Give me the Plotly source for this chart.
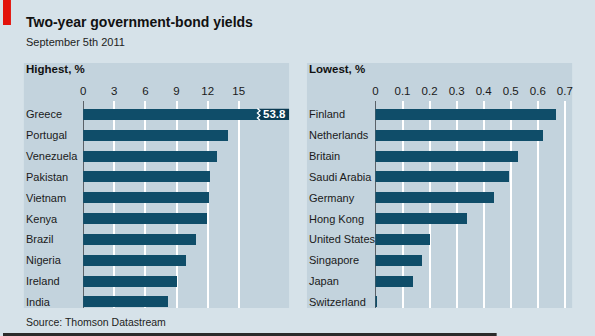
import plotly.graph_objects as go

# ---- data ----
high_countries = ["Greece", "Portugal", "Venezuela", "Pakistan", "Vietnam",
                  "Kenya", "Brazil", "Nigeria", "Ireland", "India"]
high_values = [53.8, 14.0, 12.95, 12.2, 12.1, 12.0, 10.9, 9.9, 9.1, 8.15]
high_ticks = [0, 3, 6, 9, 12, 15]

low_countries = ["Finland", "Netherlands", "Britain", "Saudi Arabia", "Germany",
                 "Hong Kong", "United States", "Singapore", "Japan", "Switzerland"]
low_values = [0.668, 0.622, 0.53, 0.494, 0.44, 0.34, 0.205, 0.175, 0.142, 0.007]
low_ticks = [0, 0.1, 0.2, 0.3, 0.4, 0.5, 0.6, 0.7]

title = "Two-year government-bond yields"
subtitle = "September 5th 2011"
source = "Source: Thomson Datastream"

# ---- style ----
W, H = 595, 336
FONT = "Liberation Sans, Arial, sans-serif"
BG = "#d6e2e9"
PANEL = "#c3d3dd"
BAR = "#0f4d69"
BAR_DARK = "#0a3a52"
TXT = "#1a1a1a"

def px(x):
    return x / W

def py(y):
    return 1 - y / H

high_range = [0, 19.85]
low_range = [0, 0.727]
y_range = [9.29, -0.64]

fig = go.Figure()
fig.add_trace(go.Bar(x=high_values, y=high_countries, orientation="h",
                     marker=dict(color=BAR, line=dict(width=0)), width=0.53,
                     xaxis="x", yaxis="y", hoverinfo="x+y"))
fig.add_trace(go.Bar(x=low_values, y=low_countries, orientation="h",
                     marker=dict(color=BAR, line=dict(width=0)), width=0.53,
                     xaxis="x2", yaxis="y2", hoverinfo="x+y"))

axis_common = dict(side="top", showgrid=True, gridcolor="#ffffff", gridwidth=1.5,
                   zeroline=True, zerolinecolor="#5a6168", zerolinewidth=1,
                   showline=False, ticks="", fixedrange=True,
                   anchor="free", position=py(97),
                   tickfont=dict(family=FONT, size=11.5, color=TXT))
fig.update_layout(
    width=W, height=H, margin=dict(l=0, r=0, t=0, b=0),
    paper_bgcolor=BG, plot_bgcolor="rgba(0,0,0,0)",
    showlegend=False, bargap=0,
    font=dict(family=FONT, color=TXT),
    xaxis=dict(domain=[px(80.7), px(288)], range=high_range,
               tickvals=high_ticks, ticktext=[str(t) for t in high_ticks], **axis_common),
    yaxis=dict(domain=[py(308), py(101)], range=y_range, type="category",
               categoryorder="array", categoryarray=high_countries,
               showticklabels=False, showgrid=False, zeroline=False, anchor="x"),
    xaxis2=dict(domain=[px(375), px(573)], range=low_range,
                tickvals=low_ticks, ticktext=[("%g" % t) for t in low_ticks], **axis_common),
    yaxis2=dict(domain=[py(308), py(101)], range=y_range, type="category",
                categoryorder="array", categoryarray=low_countries,
                showticklabels=False, showgrid=False, zeroline=False, anchor="x2"),
)

shapes = [
    # red tab
    dict(type="rect", xref="paper", yref="paper", x0=0, x1=px(8), y0=py(25), y1=1,
         fillcolor="#e3120b", line=dict(width=0), layer="below"),
    # panels
    dict(type="rect", xref="paper", yref="paper", x0=px(21), x1=px(288), y0=py(308), y1=py(63),
         fillcolor=PANEL, line=dict(width=0), layer="below"),
    dict(type="rect", xref="paper", yref="paper", x0=px(306), x1=px(573), y0=py(308), y1=py(63),
         fillcolor=PANEL, line=dict(width=0), layer="below"),
    # bottom rule
    dict(type="rect", xref="paper", yref="paper", x0=0, x1=px(497), y0=0, y1=py(333),
         fillcolor="#2b2b2b", line=dict(width=0), layer="above"),
]

# truncated Greece bar: darker end segment plus white break mark
xmax = high_range[1]
seg_start = xmax - 2.9
shapes.append(dict(type="rect", xref="x", yref="y", x0=seg_start, x1=xmax,
                   y0=0 - 0.265, y1=0 + 0.265, fillcolor=BAR_DARK, line=dict(width=0),
                   layer="above"))
zx = seg_start - 0.15
path = "M {a},{y0} L {b},{y1} L {a},{y2} L {b},{y3} L {a},{y4} L {b},{y5}".format(
    a=zx, b=zx + 0.25, y0=-0.28, y1=-0.17, y2=-0.06, y3=0.06, y4=0.17, y5=0.28)
shapes.append(dict(type="path", xref="x", yref="y", path=path,
                   line=dict(color="#ffffff", width=1.3), layer="above"))
fig.update_layout(shapes=shapes)

ann = []
ann.append(dict(text="<b>" + title + "</b>", x=px(21), y=py(22), xref="paper", yref="paper",
                xanchor="left", yanchor="middle", showarrow=False,
                font=dict(family=FONT, size=14, color="#111")))
ann.append(dict(text=subtitle, x=px(21), y=py(42), xref="paper", yref="paper",
                xanchor="left", yanchor="middle", showarrow=False,
                font=dict(family=FONT, size=11, color="#222")))
ann.append(dict(text="<b>Highest, %</b>", x=px(21), y=py(69), xref="paper", yref="paper",
                xanchor="left", yanchor="middle", showarrow=False,
                font=dict(family=FONT, size=11.5, color="#111")))
ann.append(dict(text="<b>Lowest, %</b>", x=px(306), y=py(69), xref="paper", yref="paper",
                xanchor="left", yanchor="middle", showarrow=False,
                font=dict(family=FONT, size=11.5, color="#111")))
ann.append(dict(text=source, x=px(21), y=py(322), xref="paper", yref="paper",
                xanchor="left", yanchor="middle", showarrow=False,
                font=dict(family=FONT, size=10.5, color="#222")))
for c in high_countries:
    ann.append(dict(text=c, x=px(21), y=c, xref="paper", yref="y", xanchor="left",
                    yanchor="middle", showarrow=False,
                    font=dict(family=FONT, size=11, color=TXT)))
for c in low_countries:
    ann.append(dict(text=c, x=px(306), y=c, xref="paper", yref="y2", xanchor="left",
                    yanchor="middle", showarrow=False,
                    font=dict(family=FONT, size=11, color=TXT)))
ann.append(dict(text="<b>%g</b>" % high_values[0], x=xmax, y=high_countries[0], xref="x", yref="y",
                xanchor="right", yanchor="middle", showarrow=False, xshift=-1,
                font=dict(family=FONT, size=11.5, color="#ffffff")))
fig.update_layout(annotations=ann)

fig.write_html("out.html")
